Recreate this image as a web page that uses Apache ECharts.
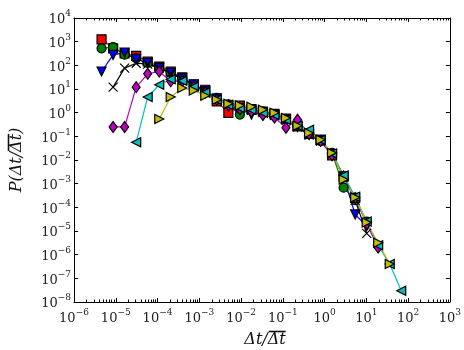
<!DOCTYPE html>
<html>
<head>
<meta charset="utf-8">
<script src="https://cdn.jsdelivr.net/npm/echarts@6/dist/echarts.min.js"></script>
<style>
  html, body { margin: 0; padding: 0; background: #fff; }
  #chart { width: 464px; height: 350px; }
</style>
</head>
<body>
<div id="chart"></div>
<script>
// bin centres of dt / mean dt (shared by all curves)
const xBins = [4.57e-6, 8.63e-6, 1.63e-5, 3.08e-5, 5.81e-5, 1.10e-4, 2.07e-4, 3.91e-4, 7.38e-4,
  1.39e-3, 2.63e-3, 4.97e-3, 9.38e-3, 1.77e-2, 3.34e-2, 6.31e-2, 0.119, 0.225, 0.425,
  0.802, 1.51, 2.86, 5.40, 10.2, 19.2, 36.3, 68.5];

const redVals = [1.26e3, 525, 316, 251, 145, 89, 55, 31, 15.1, 9.3, 3.0, 0.98, 2.0, 1.41, 1.12,
  0.89, 0.56, 0.26, 0.126, 0.071, 0.0158, 2.0e-3, 2.5e-4];
const greenVals = [525, 590, 282, 200, 126, 79, 50, 28, 14.1, 7.9, 4.2, 2.24, 0.83, 1.41, 1.12,
  0.83, 0.52, 0.28, 0.126, 0.063, 0.02, 6.8e-4, 2.0e-4, 2.5e-5];
const blueVals = [55, 275, 347, 182, 126, 79, 48, 28, 15.8, 7.9, 4.0, 2.0, 1.58, 0.83, 1.0,
  0.79, 0.5, 0.25, 0.12, 0.071, 0.0178, 2.0e-3, 5.0e-5, 1.6e-5];
const blackVals = [null, 12, 76, 123, 112, 76, 46, 26, 14.1, 7.6, 4.0, 2.24, 1.58, 1.26, 1.0,
  0.76, 0.5, 0.25, 0.112, 0.063, 0.0178, 2.0e-3, 2.0e-4, 7.9e-6];
const magentaVals = [null, 0.25, 0.25, 12, 44, 55, 21, 22, 12.6, 7.1, 3.5, 2.0, 1.41, 1.12, 0.79,
  0.63, 0.23, 0.5, 0.126, 0.063, 0.0158, 2.0e-3, 2.5e-4, 2.0e-5, 2.0e-6];
const cyanVals = [null, null, null, 0.056, 4.6, 15.1, 26, 22, 12.6, 7.1, 3.5, 2.1, 1.58, 1.32, 1.0,
  0.79, 0.5, 0.28, 0.19, 0.071, 0.019, 2.2e-3, 2.8e-4, 2.5e-5, 2.5e-6, 4.0e-7, 3.0e-8];
const yellowVals = [null, null, null, null, null, 0.54, 4.6, 11, 8.7, 5.2, 3.5, 2.4, 2.0, 1.78, 1.32,
  1.0, 0.6, 0.28, 0.138, 0.072, 0.02, 1.5e-3, 2.6e-4, 2.3e-5, 3.2e-6, 4.0e-7];

const xTicks = [1e-6, 1e-5, 1e-4, 1e-3, 1e-2, 1e-1, 1e0, 1e1, 1e2, 1e3];
const yTicks = [1e-8, 1e-7, 1e-6, 1e-5, 1e-4, 1e-3, 1e-2, 1e-1, 1e0, 1e1, 1e2, 1e3, 1e4];

// minor tick positions on the log x axis (2..9 x 10^k)
const minorX = [];
for (let e = -6; e < 3; e++) {
  for (let m = 2; m <= 9; m++) minorX.push(m * Math.pow(10, e));
}

const GRID = { left: 74, right: 12, top: 18, bottom: 48 };
const NAME_FONT = "italic 16px 'DejaVu Serif'";

const chart = echarts.init(document.getElementById("chart"), null, { renderer: "canvas" });

function pairs(vals) {
  return vals.map((v, i) => [xBins[i], v]).filter((p) => p[1] != null);
}

function powLabel(v) {
  const e = Math.round(Math.log10(v));
  const s = e < 0 ? "\u2212" + Math.abs(e) : String(e);
  return "{b|10}{s|" + s + "}";
}

const labelRich = {
  b: { fontFamily: "DejaVu Serif", fontSize: 13, color: "#222", lineHeight: 17, verticalAlign: "bottom" },
  s: { fontFamily: "DejaVu Serif", fontSize: 9, color: "#222", lineHeight: 17, verticalAlign: "top" },
};

const lineAx = { show: true, lineStyle: { color: "#000", width: 1 } };

function series(name, vals, color, symbol, size, rotate) {
  return {
    name: name,
    type: "line",
    data: pairs(vals),
    symbol: symbol,
    symbolSize: size,
    symbolRotate: rotate || 0,
    showAllSymbol: true,
    lineStyle: { color: color, width: 1.2 },
    itemStyle: { color: color, borderColor: "#000", borderWidth: 1.2 },
    emphasis: { disabled: true },
  };
}

function logAxis(min, max, pos, opts) {
  return Object.assign(
    {
      type: "log",
      min: min,
      max: max,
      position: pos,
      axisLine: lineAx,
      axisLabel: { show: false },
      splitLine: { show: false },
    },
    opts
  );
}

// axis names with an overline on the mean, drawn as text plus a short line
const measure = document.createElement("canvas").getContext("2d");
measure.font = NAME_FONT;
function tw(s) {
  return measure.measureText(s).width;
}

function nameGroup(pre, bar, post, cx, cy, rot) {
  const full = pre + bar + post;
  const W = tw(full);
  const x0 = -W / 2 + tw(pre);
  const x1 = -W / 2 + tw(pre + bar);
  return {
    type: "group",
    x: cx,
    y: cy,
    rotation: rot,
    silent: true,
    children: [
      {
        type: "text",
        style: { text: full, x: 0, y: 0, align: "center", verticalAlign: "middle", font: NAME_FONT, fill: "#111" },
      },
      {
        type: "line",
        shape: { x1: x0 + 1, y1: -8.5, x2: x1, y2: -8.5 },
        style: { stroke: "#111", lineWidth: 1.6 },
      },
    ],
  };
}

const option = {
  backgroundColor: "#fff",
  animation: false,
  grid: GRID,
  xAxis: [
    logAxis(1e-6, 1e3, "bottom", {
      axisTick: { inside: true, length: 4, customValues: xTicks, lineStyle: { color: "#000" } },
      axisLabel: { margin: 6, customValues: xTicks, formatter: powLabel, rich: labelRich },
    }),
    logAxis(1e-6, 1e3, "top", {
      axisTick: { inside: true, length: 4, customValues: xTicks, lineStyle: { color: "#000" } },
    }),
    logAxis(1e-6, 1e3, "bottom", {
      axisLine: { show: false },
      axisTick: { inside: true, length: 2.5, customValues: minorX, lineStyle: { color: "#000" } },
    }),
    logAxis(1e-6, 1e3, "top", {
      axisLine: { show: false },
      axisTick: { inside: true, length: 2.5, customValues: minorX, lineStyle: { color: "#000" } },
    }),
  ],
  yAxis: [
    logAxis(1e-8, 1e4, "left", {
      axisTick: { inside: true, length: 4, customValues: yTicks, lineStyle: { color: "#000" } },
      axisLabel: { margin: 3, customValues: yTicks, formatter: powLabel, rich: labelRich },
    }),
    logAxis(1e-8, 1e4, "right", {
      axisTick: { inside: true, length: 4, customValues: yTicks, lineStyle: { color: "#000" } },
    }),
  ],
  graphic: [
    nameGroup("\u0394t/", "\u0394t", "", 265, 340, 0),
    nameGroup("P(\u0394t/", "\u0394t", ")", 17, 160, Math.PI / 2),
  ],
  series: [
    series("r", redVals, "#ff0000", "rect", 9),
    series("g", greenVals, "#008000", "circle", 9),
    series("b", blueVals, "#0000ff", "triangle", 9, 180),
    series("k", blackVals, "#000000", "path://M0,0L10,10M10,0L0,10", 9),
    series("m", magentaVals, "#bf00bf", "diamond", [8, 11]),
    series("c", cyanVals, "#00bfbf", "triangle", 9, 90),
    series("y", yellowVals, "#bfbf00", "triangle", 9, -90),
  ],
};

chart.setOption(option);
window.addEventListener("resize", function () {
  chart.resize();
});
</script>
</body>
</html>
